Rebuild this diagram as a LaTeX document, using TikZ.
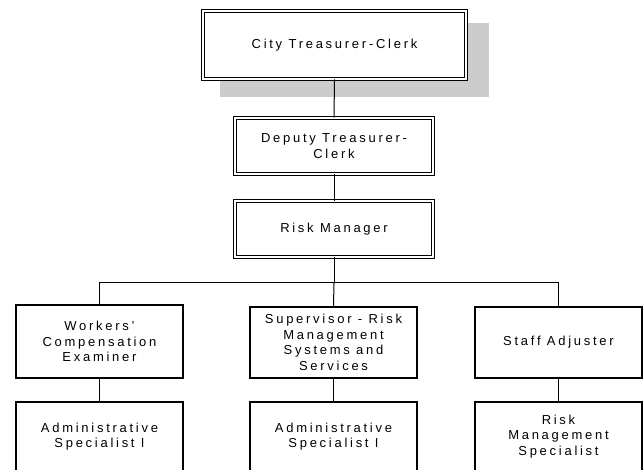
\documentclass[tikz,border=0pt]{standalone}
\usepackage{fontspec}
\setmainfont{Liberation Sans}[LetterSpace=21]
\begin{document}
\begin{tikzpicture}[x=1pt,y=-1pt,
  txt/.style={font=\fontsize{13}{15.6}\selectfont, align=center, inner sep=0pt},
  dbox/.style={txt, draw, double, double distance=2pt, line width=0.9pt},
  sbox/.style={txt, draw, line width=1.1pt},
  conn/.style={line width=1pt}]
\useasboundingbox (0,0) rectangle (643,470);
\clip (0,0) rectangle (643,470);
\fill[fill={rgb,255:red,204;green,204;blue,204}] (220,23) rectangle (489,97);
\node[dbox, minimum width=263pt, minimum height=68pt, fill=white] (ctc) at (334.5,45) {City Treasurer-Clerk};
\node[dbox, minimum width=198pt, minimum height=56pt] (dtc) at (334,146) {Deputy Treasurer-\\Clerk};
\node[dbox, minimum width=198pt, minimum height=56pt] (rm) at (334,229) {Risk Manager};
\node[sbox, minimum width=167pt, minimum height=73pt] (wce) at (99.5,341.5) {Workers'\\Compensation\\Examiner};
\node[sbox, minimum width=167pt, minimum height=71pt] (sup) at (333.5,342.5) {Supervisor - Risk\\Management\\Systems and\\Services};
\node[sbox, minimum width=167pt, minimum height=71pt] (sa) at (558.5,342.5) {Staff Adjuster};
\node[sbox, minimum width=167pt, minimum height=69pt] (as1) at (99.5,436.5) {Administrative\\Specialist I};
\node[sbox, minimum width=167pt, minimum height=69pt] (as2) at (333.5,436.5) {Administrative\\Specialist I};
\node[sbox, minimum width=167pt, minimum height=69pt] (rms) at (558.5,436.5) {Risk\\Management\\Specialist};
\coordinate (bus) at (334,283);
\draw[conn] (ctc.south) -- (dtc.north);
\draw[conn] (dtc.south) -- (rm.north);
\draw[conn] (rm.south) -- (bus);
\draw[conn] (bus) -| (wce.north);
\draw[conn] (bus) -| (sa.north);
\draw[conn] (bus) -- (sup.north);
\draw[conn] (wce.south) -- (as1.north);
\draw[conn] (sup.south) -- (as2.north);
\draw[conn] (sa.south) -- (rms.north);
\end{tikzpicture}
\end{document}
